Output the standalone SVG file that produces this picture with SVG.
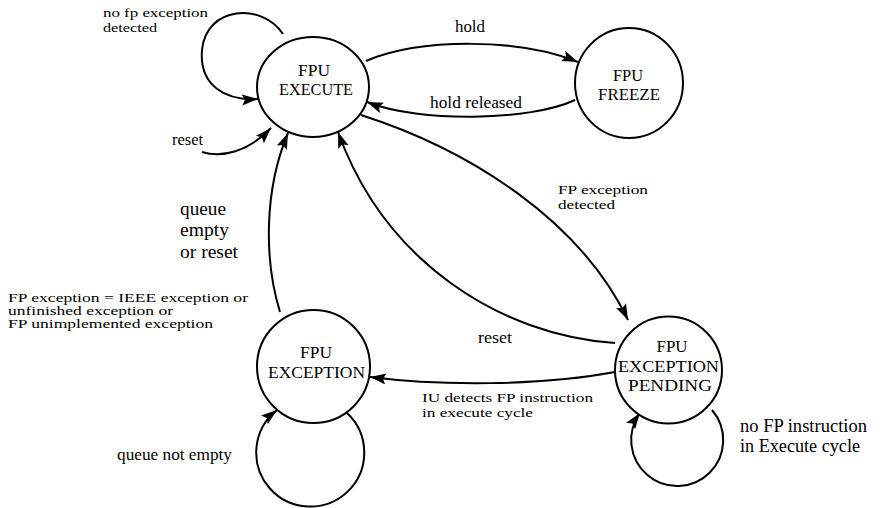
<svg xmlns="http://www.w3.org/2000/svg" width="884" height="508" viewBox="0 0 884 508">
  <style>
    .state { fill: #ffffff; stroke: #000000; stroke-width: 2; }
    .name { font-family: "Liberation Serif", "Times New Roman", serif; font-size: 17px; fill: #000000; text-anchor: middle; }
    .label { font-family: "Liberation Serif", "Times New Roman", serif; font-size: 16px; fill: #000000; }
    .big { font-size: 18px; }
    .small { font-size: 11.5px; }
    .mid { font-size: 13.5px; }
    .edge { fill: none; stroke: #000000; stroke-width: 2; marker-end: url(#arrow); }
  </style>
  <defs>
    <marker id="arrow" markerUnits="userSpaceOnUse" markerWidth="18" markerHeight="12" refX="16" refY="5.5" orient="auto">
      <path d="M0,0 L16,5.5 L0,11 L3,5.5 z" fill="#000000"/>
    </marker>
  </defs>
  <rect width="884" height="508" fill="#ffffff"/>

  <!-- transitions -->
  <g id="connectors">
    <!-- self loop on execute -->
    <path class="edge" d="M283,34 C262,2 206,6 202,50 C199,86 226,101 258,99"/>
    <!-- reset into execute -->
    <path class="edge" d="M202,152 C222,158 248,152 271,128"/>
    <!-- hold -->
    <path class="edge" d="M366,61 C420,38 520,38 578,62"/>
    <!-- hold released -->
    <path class="edge" d="M575,100 C530,121 420,123 367,102"/>
    <!-- FP exception detected -->
    <path class="edge" d="M361,115 C470,150 580,220 628,320"/>
    <!-- reset from pending -->
    <path class="edge" d="M615,343 C500,335 385,262 338,132"/>
    <!-- IU detects FP instruction -->
    <path class="edge" d="M615,372 C540,386 440,386 370,377"/>
    <!-- queue empty or reset -->
    <path class="edge" d="M280,312 C264,260 264,190 288,133"/>
    <!-- queue not empty -->
    <path class="edge" d="M347,413 A54,54 0 1 1 277,410"/>
    <!-- no FP instruction in Execute cycle -->
    <path class="edge" d="M712,410 A46,46 0 1 1 640,413"/>
  </g>

  <g id="fpu-execute">
    <ellipse class="state" cx="313" cy="87" rx="56" ry="50"/>
    <text class="name" x="314" y="76" textLength="32" lengthAdjust="spacingAndGlyphs">FPU</text>
    <text class="name" x="316" y="95" textLength="74" lengthAdjust="spacingAndGlyphs">EXECUTE</text>
  </g>
  <g id="fpu-freeze">
    <ellipse class="state" cx="629" cy="83" rx="54" ry="55"/>
    <text class="name" x="628" y="81" textLength="30" lengthAdjust="spacingAndGlyphs">FPU</text>
    <text class="name" x="629" y="100" textLength="62" lengthAdjust="spacingAndGlyphs">FREEZE</text>
  </g>
  <g id="fpu-exception">
    <circle class="state" cx="313.5" cy="366.5" r="56.5"/>
    <text class="name" x="316" y="358" textLength="32" lengthAdjust="spacingAndGlyphs">FPU</text>
    <text class="name" x="316.5" y="378" textLength="97" lengthAdjust="spacingAndGlyphs">EXCEPTION</text>
  </g>
  <g id="fpu-exception-pending">
    <circle class="state" cx="668.5" cy="370" r="53.5"/>
    <text class="name" x="672" y="352" textLength="31" lengthAdjust="spacingAndGlyphs">FPU</text>
    <text class="name" x="668.5" y="372" textLength="101" lengthAdjust="spacingAndGlyphs">EXCEPTION</text>
    <text class="name" x="670" y="391" textLength="84" lengthAdjust="spacingAndGlyphs">PENDING</text>
  </g>

  <!-- transition labels -->
  <g id="labels">
    <text class="label mid" x="103" y="17" textLength="105" lengthAdjust="spacingAndGlyphs">no fp exception</text>
    <text class="label mid" x="103" y="32" textLength="54" lengthAdjust="spacingAndGlyphs">detected</text>
    <text class="label" x="172" y="145" textLength="31" lengthAdjust="spacingAndGlyphs">reset</text>
    <text class="label" x="455" y="32" textLength="30" lengthAdjust="spacingAndGlyphs">hold</text>
    <text class="label" x="430" y="108" textLength="92" lengthAdjust="spacingAndGlyphs">hold released</text>
    <text class="label mid" x="558" y="194" textLength="90" lengthAdjust="spacingAndGlyphs">FP exception</text>
    <text class="label mid" x="558" y="209" textLength="57" lengthAdjust="spacingAndGlyphs">detected</text>
    <text class="label big" x="180" y="215" textLength="46" lengthAdjust="spacingAndGlyphs">queue</text>
    <text class="label big" x="180" y="236" textLength="49" lengthAdjust="spacingAndGlyphs">empty</text>
    <text class="label big" x="180" y="258" textLength="58" lengthAdjust="spacingAndGlyphs">or reset</text>
    <text class="label small" x="8" y="302" textLength="240" lengthAdjust="spacingAndGlyphs">FP exception = IEEE exception or</text>
    <text class="label small" x="8" y="315" textLength="165" lengthAdjust="spacingAndGlyphs">unfinished exception or</text>
    <text class="label small" x="8" y="328" textLength="205" lengthAdjust="spacingAndGlyphs">FP unimplemented exception</text>
    <text class="label" x="478" y="343" textLength="34" lengthAdjust="spacingAndGlyphs">reset</text>
    <text class="label mid" x="422" y="402" textLength="171" lengthAdjust="spacingAndGlyphs">IU detects FP instruction</text>
    <text class="label mid" x="422" y="417" textLength="111" lengthAdjust="spacingAndGlyphs">in execute cycle</text>
    <text class="label" x="117" y="460" textLength="115" lengthAdjust="spacingAndGlyphs">queue not empty</text>
    <text class="label big" x="740" y="432" textLength="127" lengthAdjust="spacingAndGlyphs">no FP instruction</text>
    <text class="label big" x="740" y="452" textLength="120" lengthAdjust="spacingAndGlyphs">in Execute cycle</text>
  </g>
</svg>
